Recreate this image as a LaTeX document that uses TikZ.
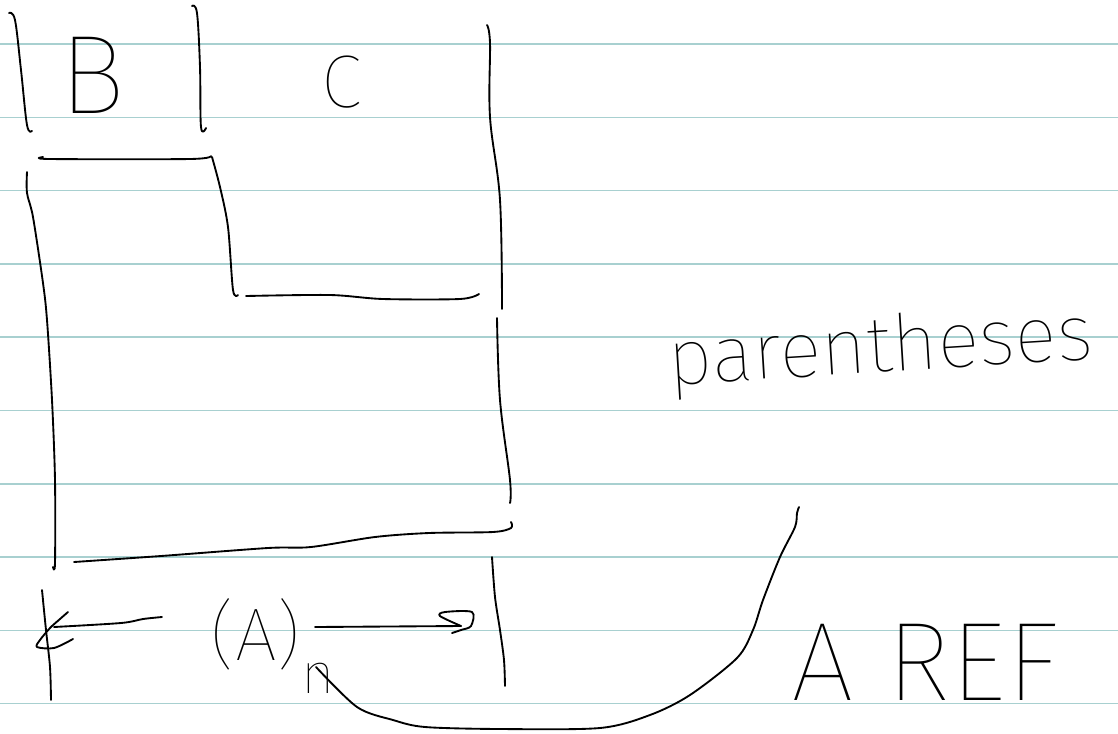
\documentclass[tikz,border=0pt]{standalone}
\usepackage{fontspec}
\IfFontExistsTF{Fira Sans Thin}{\newfontfamily\hand{Fira Sans Thin}}{%
 \IfFontExistsTF{Fira Sans ExtraLight}{\newfontfamily\hand{Fira Sans ExtraLight}}{%
  \IfFontExistsTF{Fira Sans Light}{\newfontfamily\hand{Fira Sans Light}}{%
   \IfFontExistsTF{Lato Hairline}{\newfontfamily\hand{Lato Hairline}}{%
    \IfFontExistsTF{Lato Light}{\newfontfamily\hand{Lato Light}}{\newfontfamily\hand{Fira Sans}}}}}}
\definecolor{ruleteal}{RGB}{168,208,208}
\begin{document}
\begin{tikzpicture}[x=0.75pt,y=-0.75pt,
  rule/.style={draw=ruleteal,line width=1.1pt},
  ink/.style={draw=black,line width=1.4pt,line cap=round,line join=round},
  handtext/.style={inner sep=0pt,text=black}]
\useasboundingbox[fill=white] (0,0) rectangle (1118,733);
\foreach \k in {0,...,9} \draw[rule] (0,{44+73.3*\k}) -- (1118,{44+73.3*\k});
% upper bars
\draw[ink] plot[smooth,tension=0.6] coordinates {(9,13) (15,20) (21,70) (27,125) (32,131)};
\draw[ink] plot[smooth,tension=0.6] coordinates {(192,6) (197,13) (200,67) (201,127) (206,128)};
\draw[ink] plot[smooth,tension=0.6] coordinates {(487,25) (490,43) (490,117) (500,200) (502,309)};
\draw[ink] plot[smooth,tension=0.6] coordinates {(497,318) (500,400) (510,480) (510,503)};
% step bracket
\draw[ink] plot[smooth,tension=0.5] coordinates {(43,157) (50,159) (190,159) (211,156)};
\draw[ink] plot[smooth,tension=0.5] coordinates {(212,157) (220,187) (228,227) (233,290) (238,295)};
\draw[ink] plot[smooth,tension=0.5] coordinates {(246,296) (330,295) (383,299) (460,299) (479,294)};
% long left bar and bottom line
\draw[ink] plot[smooth,tension=0.5] coordinates {(27,172) (27,193) (33,217) (43,283) (47,320) (52,400) (55,480) (55,563) (53,567)};
\draw[ink] plot[smooth,tension=0.5] coordinates {(511,522) (511,528) (493,532) (429,533) (375,537) (311,547) (268,548) (161,556) (74,562)};
% bottom row
\draw[ink] plot[smooth,tension=0.5] coordinates {(42,590) (46,630) (50,667) (51,700)};
\draw[ink] plot[smooth,tension=0.5] coordinates {(162,617) (143,619) (121,623) (54,627)};
\draw[ink] plot[smooth,tension=0.5] coordinates {(68,612) (60,619) (50,628) (40,640) (37,647) (54,648) (73,639)};
\draw[ink] (315,627) -- (461,626);
\draw[ink] plot[smooth,tension=0.5] coordinates {(452,633) (461,630) (471,626) (472,612) (445,612) (440,616) (461,626)};
\draw[ink] plot[smooth,tension=0.5] coordinates {(492,557) (495,597) (500,630) (504,660) (505,686)};
\draw[ink] plot[smooth,tension=0.5] coordinates {(316,667) (357,707) (393,720) (425,727) (500,729) (600,728) (650,715) (690,695) (737,658) (753,630) (763,600) (780,557) (795,527) (797,513) (799,507)};
% texts
\node[handtext,anchor=base,font=\hand\fontsize{84}{84}\selectfont] (B) at (92,113) {B};
\node[handtext,anchor=base,font=\hand\fontsize{56}{56}\selectfont] (C) at (342,107) {C};
\node[handtext,anchor=base,font=\hand\fontsize{56}{56}\selectfont] (A) at (256,660) {(A)};
\node[handtext,anchor=base,font=\hand\fontsize{43}{43}\selectfont] (n) at (318,693) {n};
\node[handtext,anchor=base,rotate=3.5,font=\hand\fontsize{59}{59}\selectfont] (par) at (882,372) {parentheses};
\node[handtext,anchor=base,font=\hand\fontsize{84}{84}\selectfont] (ref) at (925,700) {A REF};
\end{tikzpicture}
\end{document}
